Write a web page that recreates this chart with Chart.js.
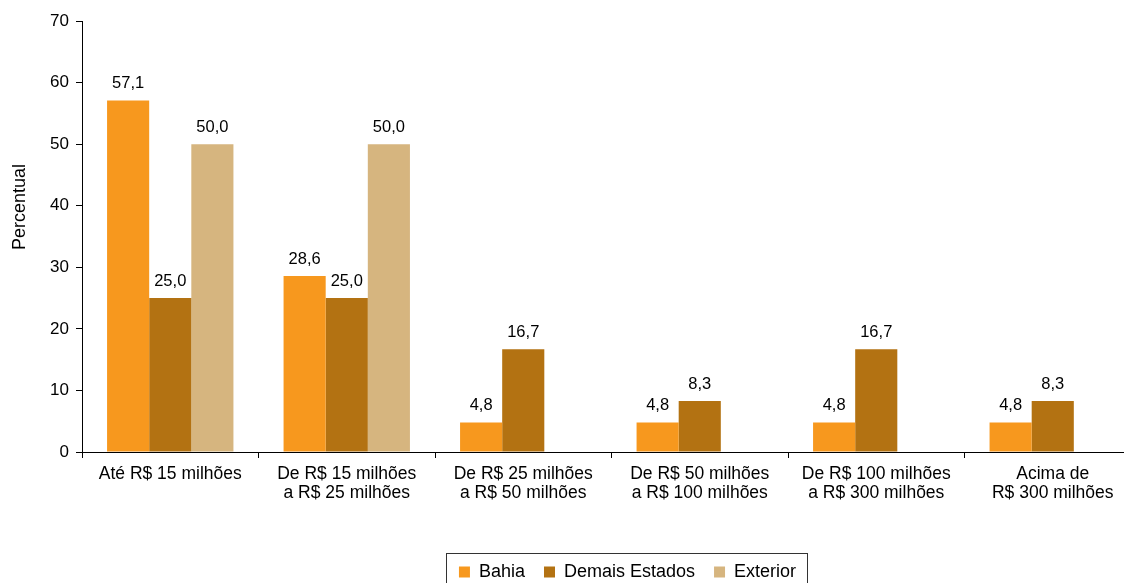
<!DOCTYPE html>
<html>
<head>
<meta charset="utf-8">
<script src="https://cdn.jsdelivr.net/npm/chart.js@4.4.1/dist/chart.umd.min.js"></script>
<style>
  html, body { margin: 0; padding: 0; background: #fff; overflow: hidden; }
  #wrap { width: 1124px; height: 583px; overflow: hidden; }
</style>
</head>
<body>
<div id="wrap"><canvas id="chart" width="1148" height="591"></canvas></div>
<script>
const categories = [
  "Até R$ 15 milhões",
  ["De R$ 15 milhões", "a R$ 25 milhões"],
  ["De R$ 25 milhões", "a R$ 50 milhões"],
  ["De R$ 50 milhões", "a R$ 100 milhões"],
  ["De R$ 100 milhões", "a R$ 300 milhões"],
  ["Acima de", "R$ 300 milhões"]
];
const bahia = [57.1, 28.6, 4.8, 4.8, 4.8, 4.8];
const demaisEstados = [25.0, 25.0, 16.7, 8.3, 16.7, 8.3];
const exterior = [50.0, 50.0, null, null, null, null];
const yTitle = "Percentual";

const FONT = "'Liberation Sans', Arial, sans-serif";

// value labels above bars, comma decimal
const valueLabels = {
  id: "valueLabels",
  afterDatasetsDraw(chart) {
    const ctx = chart.ctx;
    ctx.save();
    ctx.font = "16.5px " + FONT;
    ctx.fillStyle = "#000";
    ctx.textAlign = "center";
    ctx.textBaseline = "alphabetic";
    chart.data.datasets.forEach(function (ds, i) {
      chart.getDatasetMeta(i).data.forEach(function (bar, j) {
        const v = ds.data[j];
        if (v === null || v === undefined) return;
        ctx.fillText(v.toFixed(1).replace(".", ","), bar.x, bar.y - 12);
      });
    });
    ctx.restore();
  }
};

// y title sits above the middle of the axis in the original
const axisTitle = {
  id: "axisTitle",
  afterDraw(chart) {
    const ctx = chart.ctx;
    ctx.save();
    ctx.font = "18px " + FONT;
    ctx.fillStyle = "#000";
    ctx.textAlign = "center";
    ctx.textBaseline = "middle";
    ctx.translate(20, 207);
    ctx.rotate(-Math.PI / 2);
    ctx.fillText(yTitle, 0, 0);
    ctx.restore();
  }
};

// shift legend right and draw a frame around it
const legendFrame = {
  id: "legendFrame",
  afterLayout(chart) {
    chart.legend.left += 57;
    chart.legend.right += 57;
  },
  afterDraw(chart) {
    const lg = chart.legend;
    const pad = lg.options.labels.padding;
    const rowW = lg.lineWidths[0] - pad;
    const cx = (lg.left + lg.right) / 2;
    const cy = lg.top + pad + 9;
    const ctx = chart.ctx;
    ctx.save();
    ctx.strokeStyle = "#333";
    ctx.lineWidth = 1;
    ctx.strokeRect(Math.round(cx - rowW / 2 - 13) + 0.5, Math.round(cy - 19) + 0.5, Math.round(rowW + 24), 40);
    ctx.restore();
  }
};

new Chart(document.getElementById("chart"), {
  type: "bar",
  data: {
    labels: categories,
    datasets: [
      { label: "Bahia", data: bahia, backgroundColor: "#F7981E" },
      { label: "Demais Estados", data: demaisEstados, backgroundColor: "#B37212" },
      { label: "Exterior", data: exterior, backgroundColor: "#D6B57F" }
    ]
  },
  options: {
    responsive: false,
    animation: false,
    datasets: {
      bar: { categoryPercentage: 0.716, barPercentage: 1.0 }
    },
    layout: { padding: { top: 21, right: 7, bottom: 0, left: 0 } },
    plugins: {
      tooltip: { enabled: false },
      legend: {
        position: "bottom",
        labels: {
          color: "#000",
          font: { family: FONT, size: 18 },
          boxWidth: 11,
          boxHeight: 11,
          padding: 19
        }
      }
    },
    scales: {
      x: {
        afterFit(scale) { scale.height = 92; },
        border: { display: true, color: "#000", width: 1 },
        grid: { drawOnChartArea: false, drawTicks: true, tickLength: 6, color: "#000" },
        ticks: {
          color: "#000",
          font: { family: FONT, size: 17.5, lineHeight: 1.09 },
          padding: 7,
          maxRotation: 0,
          autoSkip: false
        }
      },
      y: {
        min: 0,
        max: 70,
        afterFit(scale) { scale.width = 82; },
        border: { display: true, color: "#000", width: 1 },
        grid: { drawOnChartArea: false, drawTicks: true, tickLength: 6, color: "#000" },
        ticks: {
          stepSize: 10,
          color: "#000",
          font: { family: FONT, size: 17 },
          padding: 7
        }
      }
    }
  },
  plugins: [valueLabels, axisTitle, legendFrame]
});
</script>
</body>
</html>
